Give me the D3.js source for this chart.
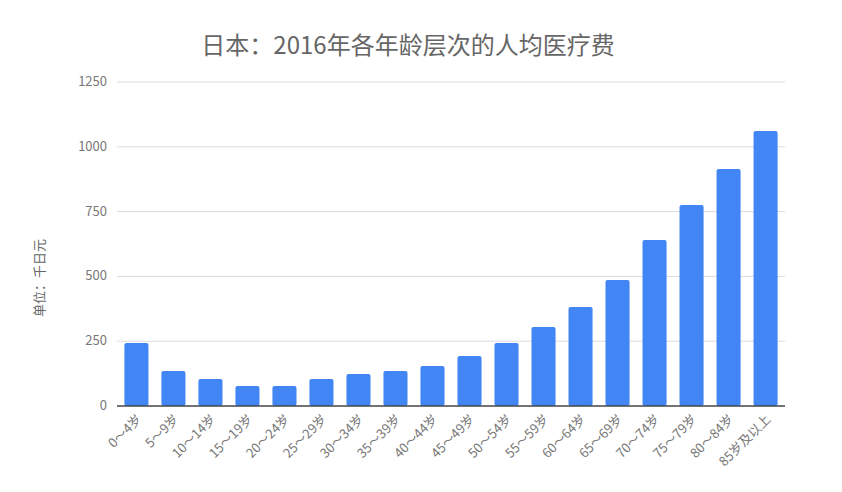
<!DOCTYPE html>
<html><head><meta charset="utf-8">
<script src="https://cdn.jsdelivr.net/npm/d3@7"></script>
<style>body{margin:0;background:#fff}text{font-family:"Noto Sans CJK SC","Noto Sans",sans-serif}</style>
</head><body><svg width="842" height="492"></svg>
<script>
const categories = ["0～4岁","5～9岁","10～14岁","15～19岁","20～24岁","25～29岁","30～34岁","35～39岁","40～44岁","45～49岁","50～54岁","55～59岁","60～64岁","65～69岁","70～74岁","75～79岁","80～84岁","85岁及以上"];
const values = [243,135,104,77,77,104,123,135,154,193,243,305,382,486,640,775,914,1061];
const yTicks = [0,250,500,750,1000,1250];

const svg = d3.select("svg");
const m = {left:117, right:785, top:82, bottom:406};

const x = d3.scaleBand().domain(categories).range([m.left, m.right]).paddingInner(0.35).paddingOuter(0.2);
const y = d3.scaleLinear().domain([0,1250]).range([m.bottom, m.top]);

// grid
svg.append("g").selectAll("line").data(yTicks.filter(d => d > 0)).join("line")
    .attr("x1", m.left).attr("x2", m.right)
    .attr("y1", d => y(d)).attr("y2", d => y(d))
    .attr("stroke", "#dcdcdc").attr("stroke-width", 1);

svg.append("g").selectAll("text").data(yTicks).join("text")
    .attr("x", m.left - 10).attr("y", d => y(d) + 4)
    .attr("text-anchor", "end").attr("font-size", 13).attr("fill", "#777")
    .text(d => d);

// bars
svg.append("g").selectAll("rect").data(values).join("rect")
    .attr("x", (d,i) => x(categories[i]))
    .attr("y", d => y(d))
    .attr("width", x.bandwidth())
    .attr("height", d => m.bottom - y(d))
    .attr("rx", 2)
    .attr("fill", "#4285f4");

// baseline
svg.append("line").attr("x1", m.left).attr("x2", m.right)
    .attr("y1", m.bottom).attr("y2", m.bottom)
    .attr("stroke", "#444").attr("stroke-width", 1.5);

// x labels
svg.append("g").selectAll("text").data(categories).join("text")
    .attr("transform", d => `translate(${x(d) + x.bandwidth()/2 + 6},${m.bottom + 14}) rotate(-45)`)
    .attr("text-anchor", "end").attr("font-size", 13).attr("fill", "#777")
    .text(d => d);

// title
svg.append("text").attr("x", 408).attr("y", 54).attr("text-anchor", "middle")
    .attr("font-size", 24).attr("fill", "#666")
    .text("日本：2016年各年龄层次的人均医疗费");

// y label
svg.append("text").attr("transform", "translate(44,278) rotate(-90)")
    .attr("text-anchor", "middle").attr("font-size", 13).attr("fill", "#666")
    .text("单位：千日元");
</script></body></html>
